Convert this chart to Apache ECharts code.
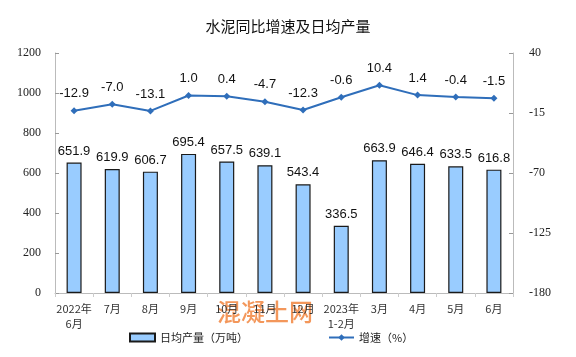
<!DOCTYPE html>
<html><head><meta charset="utf-8">
<script src="https://cdn.jsdelivr.net/npm/echarts@6/dist/echarts.min.js"></script>
<style>html,body{margin:0;padding:0;background:#fff}#c{width:576px;height:357px}</style>
</head><body><div id="c"></div>
<script>
const categories = ['2022年\n6月','7月','8月','9月','10月','11月','12月','2023年\n1-2月','3月','4月','5月','6月'];
const dailyOutput = [651.9,619.9,606.7,695.4,657.5,639.1,543.4,336.5,663.9,646.4,633.5,616.8];
const growth = [-12.9,-7.0,-13.1,1.0,0.4,-4.7,-12.3,-0.6,10.4,1.4,-0.4,-1.5];
const leftTicks = {min:0,max:1200,interval:200};
const rightTicks = {min:-180,max:40,interval:55};

const chart = echarts.init(document.getElementById('c'));
const cjk = '"Noto Sans CJK SC", sans-serif';
chart.setOption({
  animation:false,
  title:{text:'水泥同比增速及日均产量',left:'center',top:14,textStyle:{fontFamily:cjk,fontSize:15,fontWeight:'normal',color:'#111'}},
  grid:{left:55,right:63,top:53,bottom:64},
  legend:{left:124,bottom:9,itemGap:80,itemWidth:25,itemHeight:8,textStyle:{fontFamily:cjk,fontSize:11,color:'#222'},
    data:[{name:'日均产量（万吨）',icon:'rect'},{name:'增速（%）'}]},
  xAxis:{type:'category',data:categories,
    axisLine:{lineStyle:{color:'#bbb'}},axisTick:{show:true,lineStyle:{color:'#ccc'},length:4},
    axisLabel:{fontFamily:cjk,fontSize:11,color:'#333',interval:0,lineHeight:15,margin:8}},
  yAxis:[
    {type:'value',min:leftTicks.min,max:leftTicks.max,interval:leftTicks.interval,
     axisLine:{show:true,lineStyle:{color:'#bbb'}},axisTick:{show:true,inside:true,length:4,lineStyle:{color:'#999'}},
     splitLine:{show:false},axisLabel:{fontFamily:'"Liberation Serif", serif',fontSize:12,color:'#222',margin:14,formatter:v=>String(v)}},
    {type:'value',min:rightTicks.min,max:rightTicks.max,interval:rightTicks.interval,
     axisLine:{show:true,lineStyle:{color:'#bbb'}},axisTick:{show:true,inside:true,length:4,lineStyle:{color:'#999'}},
     splitLine:{show:false},axisLabel:{fontFamily:'"Liberation Serif", serif',fontSize:12,color:'#222',margin:16,formatter:v=>String(v)}}
  ],
  series:[
    {name:'日均产量（万吨）',type:'bar',data:dailyOutput,barWidth:15,yAxisIndex:0,
     itemStyle:{color:'#99CCFF',borderColor:'#1a1a1a',borderWidth:1.2},
     label:{show:true,position:'top',fontFamily:'"Liberation Sans", Arial, sans-serif',fontSize:13,color:'#111',distance:5}},
    {name:'增速（%）',type:'line',data:growth,yAxisIndex:1,symbol:'diamond',symbolSize:7,
     lineStyle:{color:'#2F6EBA',width:2},itemStyle:{color:'#2F6EBA'},
     label:{show:true,position:'top',fontFamily:'"Liberation Sans", Arial, sans-serif',fontSize:13,color:'#111',distance:7,
       formatter:p=>p.value.toFixed(1)}}
  ],
  graphic:[{type:'text',left:217,top:300,style:{text:'混凝土网',font:'500 24px "Noto Sans CJK SC"',fill:'rgba(240,125,50,0.8)'}}]
});
</script></body></html>
